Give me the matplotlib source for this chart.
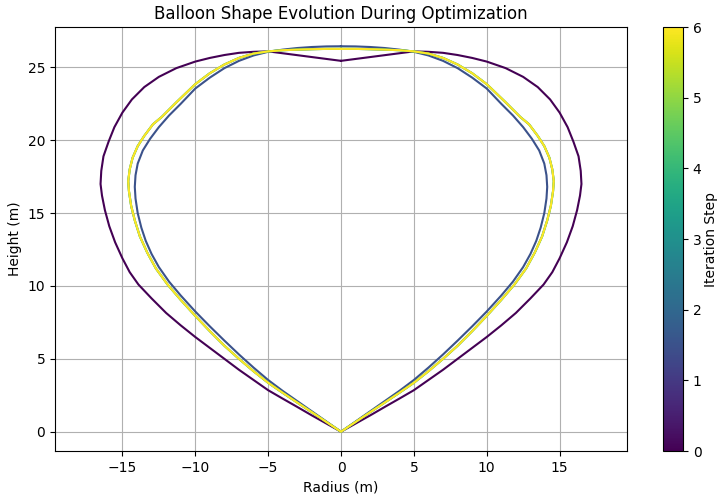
import numpy as np
import matplotlib
matplotlib.use("Agg")
import matplotlib.pyplot as plt

# half profiles (radius, height), from the bottom tip up to the crown on the axis
r_step0 = [0, 1, 2, 3, 4, 5, 6, 7, 8, 9, 10, 11, 12, 13, 13.9, 14.5, 15, 15.5, 15.9, 16.2, 16.4,
           16.5, 16.45, 16.3, 15.95, 15.55, 15.0, 14.35, 13.5, 12.5, 11.3, 10, 9, 8, 7, 6, 5,
           4, 3, 2, 1, 0]
z_step0 = [0, 0.56, 1.12, 1.7, 2.27, 2.85, 3.55, 4.25, 5.0, 5.75, 6.5, 7.3, 8.15, 9.15, 10.1, 10.95, 11.9, 13.0, 14.1, 15.2, 16.2,
           17.0, 17.9, 18.9, 19.9, 20.9, 21.9, 22.8, 23.65, 24.35, 24.95, 25.4, 25.65, 25.85, 26.0, 26.07, 26.1,
           25.97, 25.84, 25.71, 25.58, 25.45]

r_step1 = [0, 1, 2, 3, 4, 5, 6, 7, 8, 9, 10, 11, 11.8, 12.5, 13.0, 13.4, 13.7, 13.95, 14.1,
           14.15, 14.1, 13.95, 13.6, 13.1, 12.5, 11.8, 11, 10, 9, 8, 7, 6, 5,
           4, 3, 2, 1, 0]
z_step1 = [0, 0.7, 1.4, 2.1, 2.8, 3.55, 4.4, 5.3, 6.25, 7.23, 8.25, 9.35, 10.3, 11.3, 12.2, 13.1, 14.0, 15.0, 16.0,
           16.8, 17.6, 18.4, 19.3, 20.1, 20.9, 21.7, 22.5, 23.55, 24.3, 24.95, 25.45, 25.82, 26.07,
           26.22, 26.33, 26.4, 26.44, 26.45]

r_conv = [0, 1, 2, 3, 4, 5, 6, 7, 8, 9, 10, 11, 11.9, 12.7, 13.3, 13.8, 14.15, 14.4, 14.55,
          14.6, 14.5, 14.3, 13.95, 13.5, 12.9, 12.3, 11.3, 10, 9, 8, 7, 6, 5,
          4, 3, 2, 1, 0]
z_conv = [0, 0.67, 1.34, 2.0, 2.67, 3.36, 4.15, 5.0, 5.9, 6.9, 7.95, 9.05, 10.1, 11.2, 12.3, 13.4, 14.5, 15.5, 16.5,
          17.2, 18.0, 18.8, 19.6, 20.3, 21.1, 21.6, 22.6, 23.85, 24.6, 25.2, 25.65, 25.95, 26.1,
          26.18, 26.22, 26.25, 26.27, 26.27]

shapes = [(r_step0, z_step0), (r_step1, z_step1),
          (r_conv, z_conv), (r_conv, z_conv), (r_conv, z_conv)]
n_iter_max = 6

fig = plt.figure(figsize=(7.19, 4.98), dpi=100)
ax = fig.add_axes([55/719, 47/498, 572/719, 424/498])
cax = fig.add_axes([663/719, 47/498, 20/719, 424/498])

cmap = plt.cm.viridis
colors = cmap(np.linspace(0, 1, len(shapes)))

for (r, z), c in zip(shapes, colors):
    r = np.asarray(r)
    z = np.asarray(z)
    # mirror the half profile about the axis
    x = np.concatenate([-r[::-1], r])
    y = np.concatenate([z[::-1], z])
    ax.plot(x, y, color=c, lw=1.5)

ax.set_title('Balloon Shape Evolution During Optimization')
ax.set_xlabel('Radius (m)')
ax.set_ylabel('Height (m)')
ax.grid(True)
ax.set_aspect('equal', adjustable='datalim')

norm = matplotlib.colors.Normalize(vmin=0, vmax=n_iter_max)
sm = matplotlib.cm.ScalarMappable(cmap=cmap, norm=norm)
cb = fig.colorbar(sm, cax=cax)
cb.set_label('Iteration Step', labelpad=2)

fig.savefig('out.png', dpi=100)
